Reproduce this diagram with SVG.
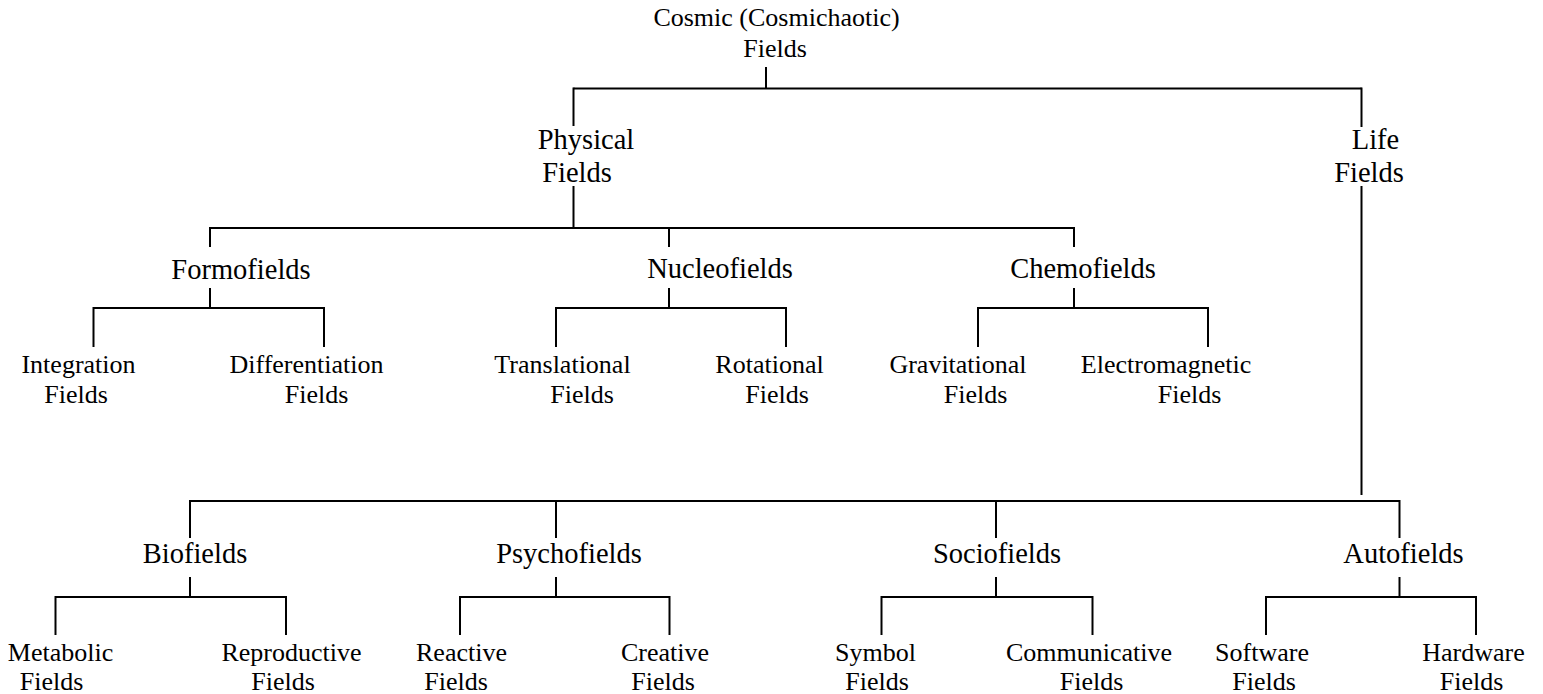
<svg xmlns="http://www.w3.org/2000/svg" width="1543" height="694" viewBox="0 0 1543 694">
<style>
text{font-family:"Liberation Serif","Times New Roman",serif;fill:#000;text-anchor:middle}
.s{font-size:26px}
.l{font-size:28.5px}
#connectors line{stroke:#000;stroke-width:2;fill:none}
</style>
<rect width="1543" height="694" fill="#fff"/>
<g id="connectors">
<line x1="766" y1="67" x2="766" y2="88.5"/>
<line x1="573.5" y1="88.5" x2="1361.5" y2="88.5"/>
<line x1="573.5" y1="87.5" x2="573.5" y2="126"/>
<line x1="1361.5" y1="87.5" x2="1361.5" y2="127"/>
<line x1="573.5" y1="186" x2="573.5" y2="228"/>
<line x1="1361.5" y1="186" x2="1361.5" y2="495"/>
<line x1="210" y1="228" x2="1074" y2="228"/>
<line x1="210" y1="227" x2="210" y2="247"/>
<line x1="669" y1="227" x2="669" y2="247"/>
<line x1="1074" y1="227" x2="1074" y2="247"/>
<line x1="210" y1="288" x2="210" y2="308"/>
<line x1="669" y1="288" x2="669" y2="308"/>
<line x1="1074" y1="288" x2="1074" y2="308"/>
<line x1="93.5" y1="308" x2="324" y2="308"/>
<line x1="556" y1="308" x2="786" y2="308"/>
<line x1="978" y1="308" x2="1208" y2="308"/>
<line x1="93.5" y1="307" x2="93.5" y2="347"/>
<line x1="324" y1="307" x2="324" y2="347"/>
<line x1="556" y1="307" x2="556" y2="347"/>
<line x1="786" y1="307" x2="786" y2="347"/>
<line x1="978" y1="307" x2="978" y2="347"/>
<line x1="1208" y1="307" x2="1208" y2="347"/>
<line x1="190" y1="501" x2="1399.5" y2="501"/>
<line x1="190" y1="500" x2="190" y2="538"/>
<line x1="556" y1="500" x2="556" y2="538"/>
<line x1="996" y1="500" x2="996" y2="538"/>
<line x1="1399.5" y1="500" x2="1399.5" y2="538"/>
<line x1="190" y1="577" x2="190" y2="597"/>
<line x1="556" y1="577" x2="556" y2="597"/>
<line x1="996" y1="577" x2="996" y2="597"/>
<line x1="1399.5" y1="577" x2="1399.5" y2="597"/>
<line x1="55.5" y1="597" x2="286" y2="597"/>
<line x1="460" y1="597" x2="669.5" y2="597"/>
<line x1="881.5" y1="597" x2="1092.5" y2="597"/>
<line x1="1266" y1="597" x2="1476" y2="597"/>
<line x1="55.5" y1="596" x2="55.5" y2="635"/>
<line x1="286" y1="596" x2="286" y2="635"/>
<line x1="460" y1="596" x2="460" y2="635"/>
<line x1="669.5" y1="596" x2="669.5" y2="635"/>
<line x1="881.5" y1="596" x2="881.5" y2="635"/>
<line x1="1092.5" y1="596" x2="1092.5" y2="635"/>
<line x1="1266" y1="596" x2="1266" y2="635"/>
<line x1="1476" y1="596" x2="1476" y2="635"/>
</g>
<g id="cosmic"><text class="s" x="776.5" y="25.5">Cosmic (Cosmichaotic)</text><text class="s" x="775" y="57">Fields</text></g>
<g id="physical"><text class="l" x="586" y="149">Physical</text><text class="l" x="577" y="181.5">Fields</text></g>
<g id="life"><text class="l" x="1375.5" y="149">Life</text><text class="l" x="1369" y="181.5">Fields</text></g>
<g id="formofields"><text class="l" x="241" y="279">Formofields</text></g>
<g id="nucleofields"><text class="l" x="720" y="278">Nucleofields</text></g>
<g id="chemofields"><text class="l" x="1083" y="278">Chemofields</text></g>
<g id="integration"><text class="s" x="78.5" y="373">Integration</text><text class="s" x="76" y="403">Fields</text></g>
<g id="differentiation"><text class="s" x="306.5" y="373">Differentiation</text><text class="s" x="316.5" y="403">Fields</text></g>
<g id="translational"><text class="s" x="562.5" y="373">Translational</text><text class="s" x="582" y="403">Fields</text></g>
<g id="rotational"><text class="s" x="769.5" y="373">Rotational</text><text class="s" x="777" y="403">Fields</text></g>
<g id="gravitational"><text class="s" x="958" y="373">Gravitational</text><text class="s" x="975.5" y="403">Fields</text></g>
<g id="electromagnetic"><text class="s" x="1166" y="373">Electromagnetic</text><text class="s" x="1189.5" y="403">Fields</text></g>
<g id="biofields"><text class="l" x="195" y="563">Biofields</text></g>
<g id="psychofields"><text class="l" x="569" y="563">Psychofields</text></g>
<g id="sociofields"><text class="l" x="997" y="563">Sociofields</text></g>
<g id="autofields"><text class="l" x="1403.5" y="563">Autofields</text></g>
<g id="metabolic"><text class="s" x="60.5" y="661">Metabolic</text><text class="s" x="51.5" y="690">Fields</text></g>
<g id="reproductive"><text class="s" x="291.5" y="661">Reproductive</text><text class="s" x="283" y="690">Fields</text></g>
<g id="reactive"><text class="s" x="461.5" y="661">Reactive</text><text class="s" x="456" y="690">Fields</text></g>
<g id="creative"><text class="s" x="665" y="661">Creative</text><text class="s" x="663" y="690">Fields</text></g>
<g id="symbol"><text class="s" x="875.5" y="661">Symbol</text><text class="s" x="877" y="690">Fields</text></g>
<g id="communicative"><text class="s" x="1089" y="661">Communicative</text><text class="s" x="1091.5" y="690">Fields</text></g>
<g id="software"><text class="s" x="1262" y="661">Software</text><text class="s" x="1264" y="690">Fields</text></g>
<g id="hardware"><text class="s" x="1473.5" y="661">Hardware</text><text class="s" x="1471.5" y="690">Fields</text></g>
</svg>
